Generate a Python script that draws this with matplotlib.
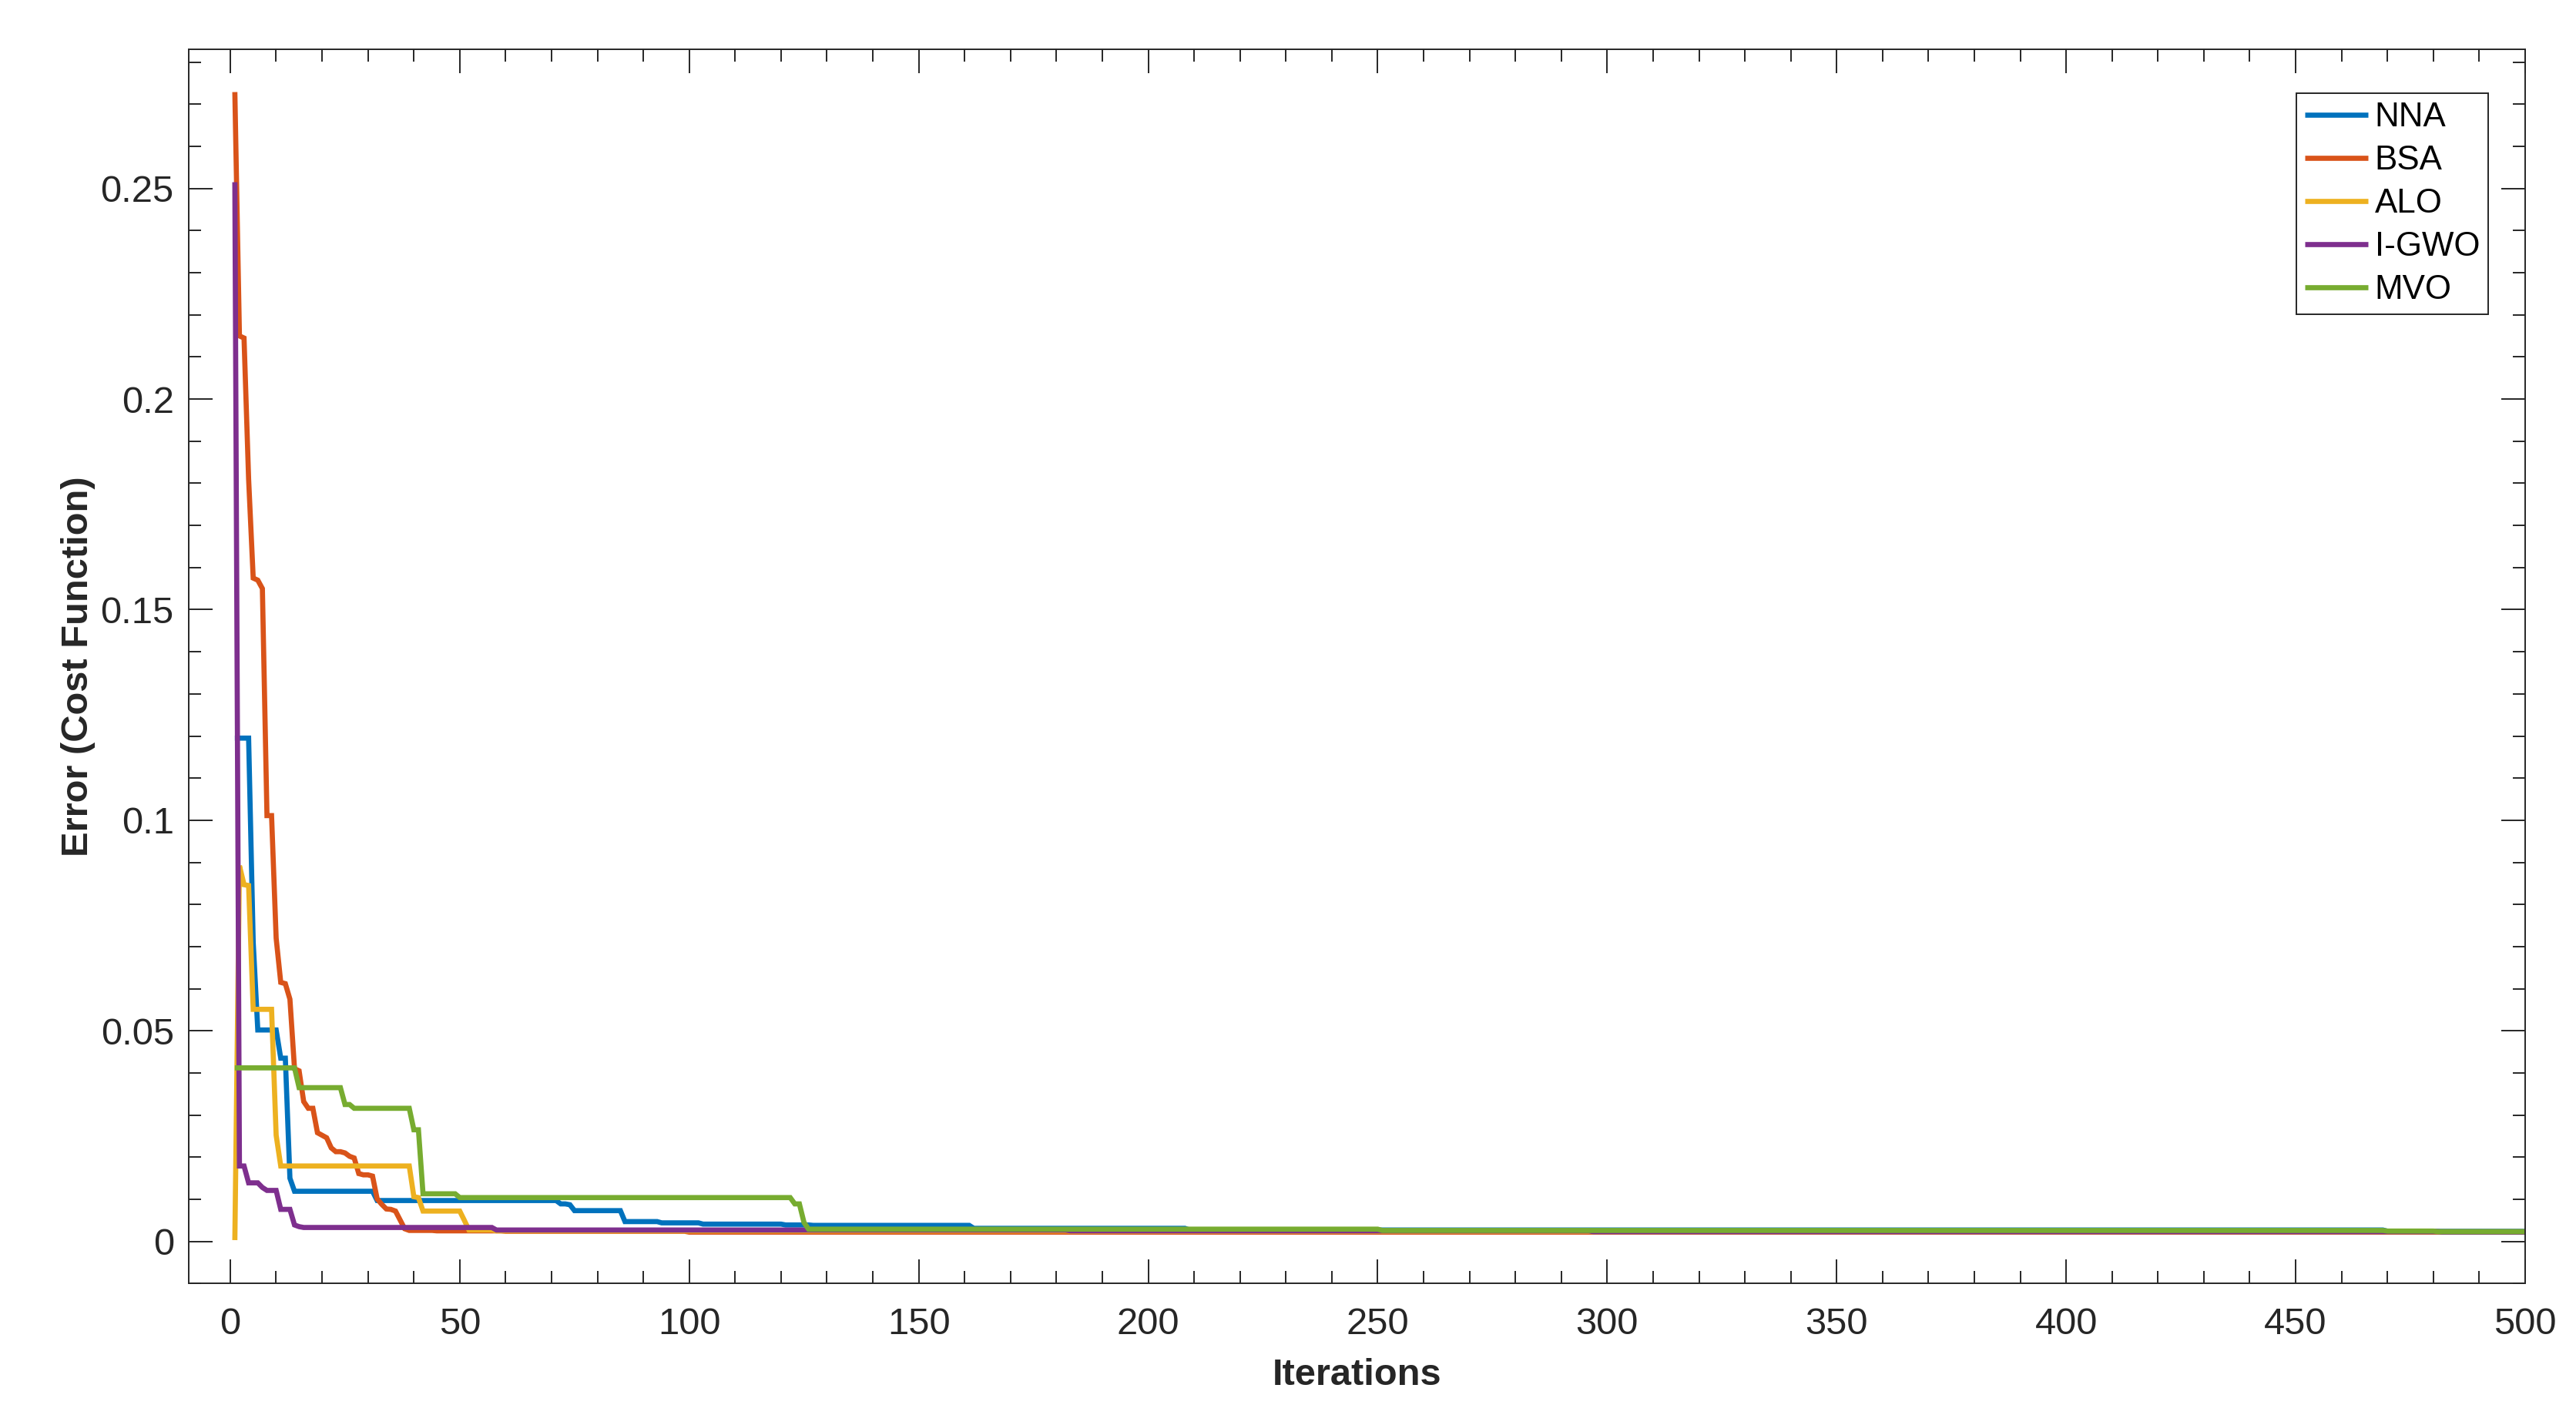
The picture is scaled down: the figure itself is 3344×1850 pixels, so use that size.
import numpy as np
import matplotlib.pyplot as plt
from matplotlib.ticker import MultipleLocator, FormatStrFormatter

plt.rcParams['font.family'] = ['Liberation Sans', 'DejaVu Sans']

n_iter = 500
iterations = np.arange(1, n_iter + 1)

# convergence curves, stored as (iteration where the best cost changes, new cost)
nna_it = [1, 5, 6, 11, 13, 14, 32, 72, 74, 75, 86, 94, 103, 121, 127, 162, 209, 470]
nna_val = [0.1195, 0.071, 0.0502, 0.0435, 0.0150, 0.0119, 0.0097, 0.0089, 0.0087,
           0.0073, 0.0047, 0.0044, 0.0041, 0.0039, 0.0038, 0.0031, 0.0027, 0.0024]

bsa_it = [1, 2, 3, 4, 5, 6, 7, 8, 10, 11, 12, 13, 14, 15, 16, 17, 19, 20, 21, 22, 23,
          25, 26, 27, 28, 29, 31, 32, 33, 34, 35, 36, 37, 38, 39, 45, 60, 100]
bsa_val = [0.2729, 0.2150, 0.2145, 0.181, 0.1575, 0.1570, 0.1550, 0.1011, 0.072, 0.0615,
           0.0612, 0.0575, 0.0410, 0.0405, 0.0332, 0.0316, 0.0258, 0.0252, 0.0246, 0.0222,
           0.0213, 0.0210, 0.0202, 0.0198, 0.0161, 0.0158, 0.0155, 0.0101, 0.0088, 0.0077,
           0.0076, 0.0072, 0.0051, 0.0030, 0.0026, 0.0025, 0.0024, 0.0022]

alo_it = [1, 2, 3, 4, 5, 10, 11, 40, 41, 42, 51, 52, 58, 183, 297]
alo_val = [0.0003, 0.0892, 0.0847, 0.0845, 0.0551, 0.0252, 0.0179, 0.0106, 0.0104, 0.0072,
           0.0050, 0.0027, 0.0025, 0.0024, 0.0023]

igwo_it = [1, 2, 4, 7, 8, 11, 14, 15, 16, 58, 183, 297, 482]
igwo_val = [0.2515, 0.0179, 0.0139, 0.0128, 0.0121, 0.0076, 0.0039, 0.0035, 0.0033, 0.0027,
            0.0025, 0.0023, 0.0022]

mvo_it = [1, 15, 25, 27, 40, 42, 50, 123, 125, 126, 251, 470, 481]
mvo_val = [0.0412, 0.0365, 0.0325, 0.0316, 0.0265, 0.0113, 0.0104, 0.0089, 0.0045, 0.0029,
           0.0026, 0.00245, 0.0023]

names = ['NNA', 'BSA', 'ALO', 'I-GWO', 'MVO']
colors = ['#0072BD', '#D95319', '#EDB120', '#7E2F8E', '#77AC30']


def hold(it, val):
    # best-so-far curve: each value is kept until the next change
    out = np.empty(n_iter)
    for start, v in zip(it, val):
        out[start - 1:] = v
    return out


curves = [hold(nna_it, nna_val), hold(bsa_it, bsa_val), hold(alo_it, alo_val),
          hold(igwo_it, igwo_val), hold(mvo_it, mvo_val)]

fig = plt.figure(figsize=(16.72, 9.25), dpi=200)
ax = fig.add_axes([0.07335, 0.0993, 0.90691, 0.86594])

for curve, name, c in zip(curves, names, colors):
    ax.plot(iterations, curve, color=c, linewidth=2.4, label=name,
            solid_capstyle='butt', solid_joinstyle='miter')

ax.set_xlim(-9, 500)
ax.set_ylim(-0.01, 0.283)
ax.xaxis.set_major_locator(MultipleLocator(50))
ax.xaxis.set_minor_locator(MultipleLocator(10))
ax.yaxis.set_major_locator(MultipleLocator(0.05))
ax.yaxis.set_minor_locator(MultipleLocator(0.01))
ax.yaxis.set_major_formatter(FormatStrFormatter('%g'))

dark = '#262626'
for s in ax.spines.values():
    s.set_color(dark)
    s.set_linewidth(0.7)
ax.tick_params(which='both', direction='in', top=True, right=True, color=dark, width=0.7)
ax.tick_params(which='major', length=11, labelsize=17.6, labelcolor=dark)
ax.tick_params(axis='x', which='major', pad=10.9)
ax.tick_params(axis='y', which='major', pad=7)
ax.tick_params(which='minor', length=5.6)

ax.set_xlabel('Iterations', fontsize=17.6, fontweight='bold', color=dark)
ax.set_ylabel('Error (Cost Function)', fontsize=17.6, fontweight='bold', color=dark)
ax.xaxis.set_label_coords(0.5, -0.0601)
ax.yaxis.set_label_coords(-0.0400, 0.5)

leg = ax.legend(loc='upper right', bbox_to_anchor=(3230 / 3344, 1 - 121.3 / 1850),
                bbox_transform=fig.transFigure, borderaxespad=0, fontsize=15.8,
                handlelength=1.86, handletextpad=0.2, labelspacing=0.34,
                borderpad=0.25, fancybox=False, framealpha=1)
leg.get_frame().set_edgecolor(dark)
leg.get_frame().set_linewidth(0.7)

fig.savefig('out.png', dpi=200)
